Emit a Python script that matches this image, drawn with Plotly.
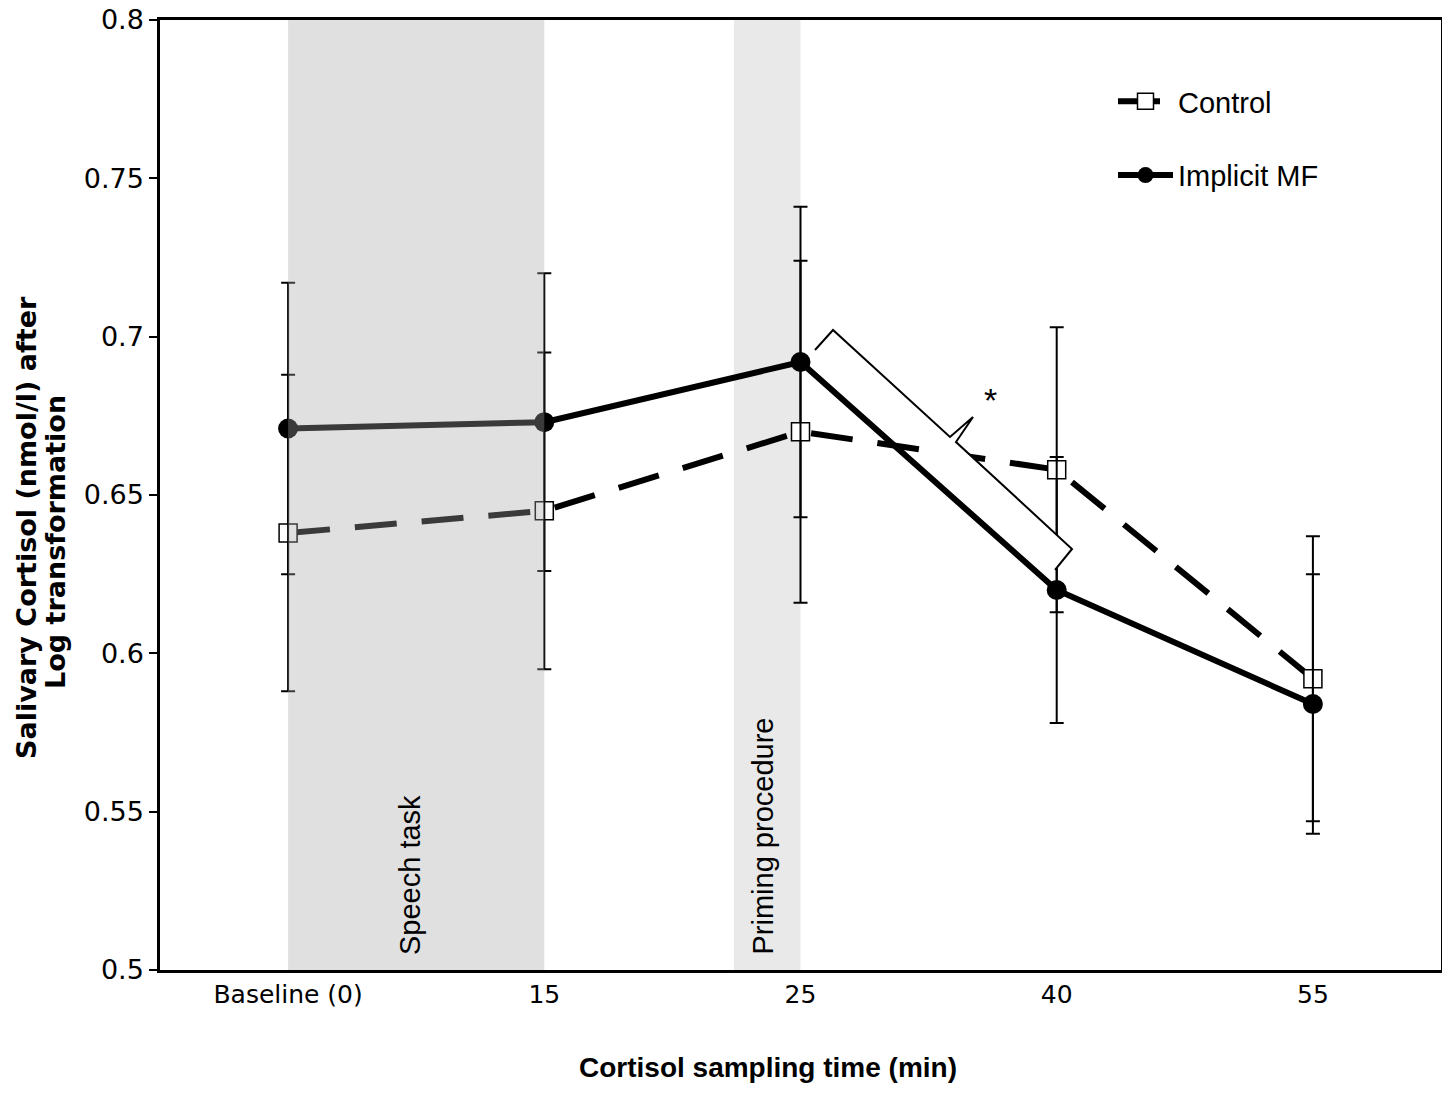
import plotly.graph_objects as go

# ---- data ----
time_labels = ["Baseline (0)", "15", "25", "40", "55"]
x_idx = [0, 1, 2, 3, 4]
control_mean = [0.638, 0.645, 0.670, 0.658, 0.592]
control_err = [0.050, 0.050, 0.054, 0.045, 0.045]
implicit_mean = [0.671, 0.673, 0.692, 0.620, 0.584]
implicit_err = [0.046, 0.047, 0.049, 0.042, 0.041]
y_ticks = [0.5, 0.55, 0.6, 0.65, 0.7, 0.75, 0.8]
y_tick_text = ["0.5", "0.55", "0.6", "0.65", "0.7", "0.75", "0.8"]

OFF = 8                      # page body margin
W, H = 1434, 1078            # figure size
PL, PT, PW, PH = 160, 20, 1281, 950   # plot box in page pixels
ML, MT = PL - OFF, PT - OFF
MR = W - ML - PW
MB = H - MT - PH
XR = [-0.5, 4.5]
YR = [0.5, 0.8]


def px2d(px, py):
    x = XR[0] + (px - PL) / PW * (XR[1] - XR[0])
    y = YR[0] + (PT + PH - py) / PH * (YR[1] - YR[0])
    return x, y


def px2paper(px, py):
    return (px - PL) / PW, (PT + PH - py) / PH


fig = go.Figure()

fig.add_trace(go.Scatter(
    x=x_idx, y=control_mean, name="Control", mode="lines+markers",
    legendgroup="c",
    line=dict(color="black", width=6, dash="42px,25px"),
    marker=dict(symbol="square", size=18, color="white",
                line=dict(color="black", width=1.5)),
    error_y=dict(type="data", array=control_err, color="black",
                 thickness=2, width=7),
))
fig.add_trace(go.Scatter(
    x=x_idx, y=implicit_mean, name="Implicit MF", mode="lines+markers",
    legendgroup="i",
    line=dict(color="black", width=6),
    marker=dict(symbol="circle", size=20, color="black"),
    error_y=dict(type="data", array=implicit_err, color="black",
                 thickness=2, width=7),
))

# shaded periods
fig.add_shape(type="rect", xref="x", yref="y", x0=1.74, x1=2, y0=0.5, y1=0.8,
              fillcolor="#e9e9e9", line=dict(width=0), layer="below")
fig.add_shape(type="rect", xref="x", yref="y", x0=0, x1=1, y0=0.5, y1=0.8,
              fillcolor="#a6a6a6", opacity=0.35, line=dict(width=0), layer="above")

# brace annotation
brace_px = [(815, 350), (833, 330), (950, 437), (973, 417), (956, 442),
            (1072, 549), (1055, 570)]
brace = [px2d(*p) for p in brace_px]
path = "M " + " L ".join(f"{x:.4f},{y:.5f}" for x, y in brace)
fig.add_shape(type="path", xref="x", yref="y", path=path + " Z",
              fillcolor="white", line=dict(width=0), layer="above")
fig.add_shape(type="path", xref="x", yref="y", path=path,
              line=dict(color="black", width=2), layer="above")

sx, sy = px2d(990, 400)
fig.add_annotation(x=sx, y=sy, xref="x", yref="y", text="*", showarrow=False,
                   font=dict(family="Liberation Sans", size=34, color="black"))

tx, ty = px2d(410, 957)
fig.add_annotation(x=tx, y=ty, xref="x", yref="y", text="Speech task",
                   textangle=-90, showarrow=False, xanchor="center", yanchor="bottom",
                   font=dict(family="Liberation Sans", size=29, color="black"))
tx2, _ = px2d(762, 957)
fig.add_annotation(x=tx2, y=ty, xref="x", yref="y", text="Priming procedure",
                   textangle=-90, showarrow=False, xanchor="center", yanchor="bottom",
                   font=dict(family="Liberation Sans", size=29, color="black"))

# axis titles
for txt, (cx, cy) in [("<b>Salivary Cortisol (nmol/l) after</b>", (26, 528)),
                      ("<b>Log transformation</b>", (55, 542))]:
    ax_, ay_ = px2paper(cx, cy)
    fig.add_annotation(x=ax_, y=ay_, xref="paper", yref="paper", text=txt,
                       textangle=-90, showarrow=False, xanchor="center", yanchor="middle",
                       font=dict(family="DejaVu Sans", size=27, color="black"))
bx_, by_ = px2paper(768, 1067)
fig.add_annotation(x=bx_, y=by_, xref="paper", yref="paper",
                   text="<b>Cortisol sampling time (min)</b>", showarrow=False,
                   xanchor="center", yanchor="middle",
                   font=dict(family="Liberation Sans", size=28, color="black"))

lx, ly = px2paper(1113, 76)
fig.update_layout(
    width=W, height=H,
    margin=dict(l=ML, r=MR, t=MT, b=MB, autoexpand=False),
    paper_bgcolor="white", plot_bgcolor="white",
    showlegend=True,
    legend=dict(x=lx, y=ly, xanchor="left", yanchor="top", itemwidth=55,
                font=dict(family="Liberation Sans", size=29, color="black"),
                bgcolor="rgba(0,0,0,0)", tracegroupgap=33, traceorder="grouped"),
    xaxis=dict(range=XR, tickmode="array", tickvals=x_idx, ticktext=time_labels,
               showgrid=False, zeroline=False, showline=True, linecolor="black",
               linewidth=2.5, mirror=True, ticks="", automargin=False,
               tickfont=dict(family="DejaVu Sans", size=25, color="black")),
    yaxis=dict(range=YR, tickmode="array", tickvals=y_ticks, ticktext=y_tick_text,
               showgrid=False, zeroline=False, showline=True, linecolor="black",
               linewidth=2.5, mirror=True, ticks="outside", ticklen=8, tickwidth=2,
               tickcolor="black", ticklabeloverflow="allow", automargin=False,
               tickfont=dict(family="DejaVu Sans", size=27, color="black")),
)

fig.write_html("out.html")
